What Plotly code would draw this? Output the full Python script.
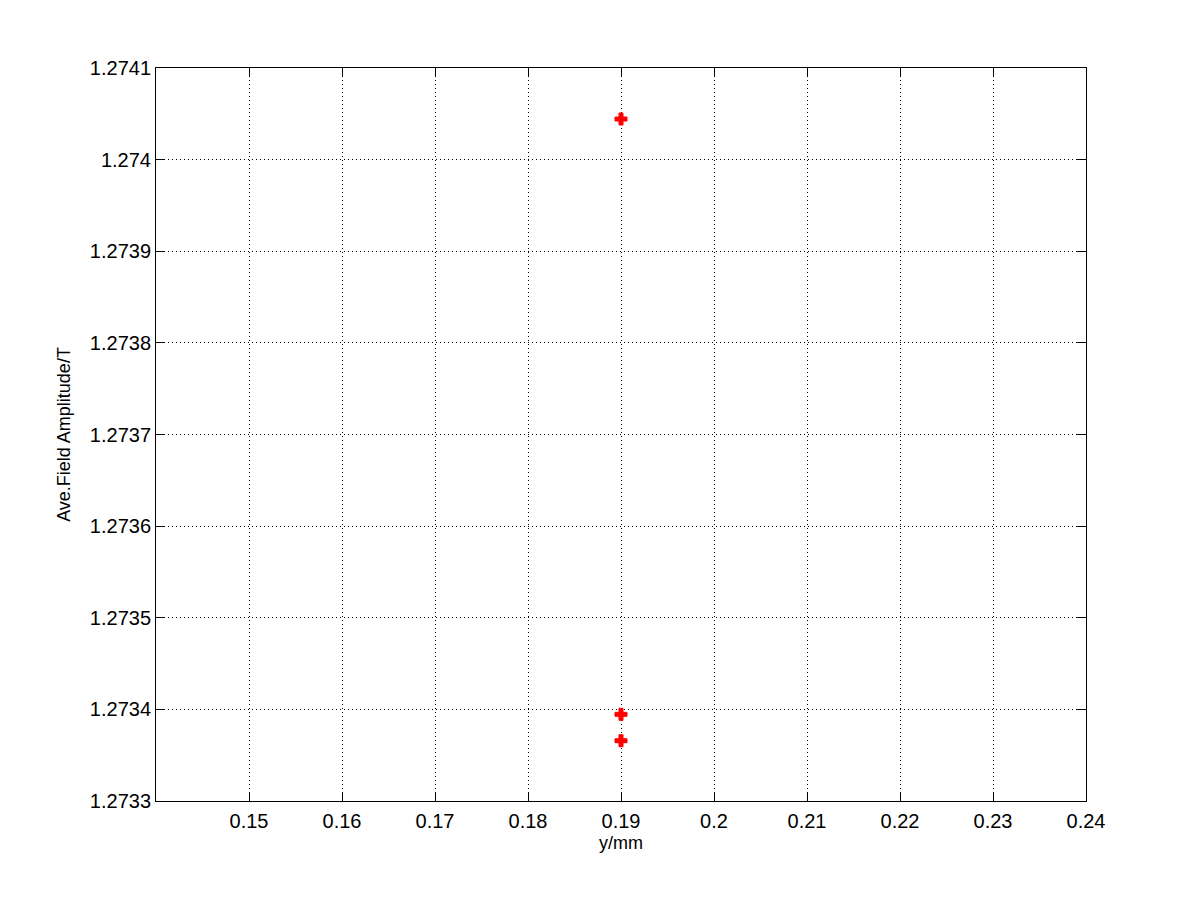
import plotly.graph_objects as go

x_vals = [0.19, 0.19, 0.19]
y_vals = [1.2740443, 1.2733946, 1.2733658]

x_ticks = [0.15, 0.16, 0.17, 0.18, 0.19, 0.20, 0.21, 0.22, 0.23, 0.24]
x_ticktext = ["0.15", "0.16", "0.17", "0.18", "0.19", "0.2", "0.21", "0.22", "0.23", "0.24"]
y_ticks = [1.2733, 1.2734, 1.2735, 1.2736, 1.2737, 1.2738, 1.2739, 1.2740, 1.2741]
y_ticktext = ["1.2733", "1.2734", "1.2735", "1.2736", "1.2737", "1.2738", "1.2739", "1.274", "1.2741"]

fig = go.Figure()
fig.add_trace(go.Scatter(
    x=x_vals, y=y_vals, mode="markers",
    marker=dict(symbol="cross", size=10, color="red", line=dict(color="red", width=1)),
    showlegend=False,
))

font = dict(family="Liberation Sans, Arial, sans-serif", size=18, color="black")
tick_font = dict(family="Liberation Sans, Arial, sans-serif", size=20, color="black")
axis_common = dict(
    showline=True, linecolor="black", linewidth=1, mirror="ticks",
    ticks="inside", ticklen=9, tickcolor="black", tickwidth=1,
    showgrid=True, gridcolor="black", gridwidth=1, griddash="1px,3px",
    zeroline=False, tickfont=tick_font, tickmode="array",
)

fig.update_layout(
    width=1200, height=900,
    paper_bgcolor="white", plot_bgcolor="white",
    margin=dict(l=148, r=122, t=60, b=107),
    font=font,
    xaxis=dict(axis_common, range=[0.14, 0.24], tickvals=x_ticks, ticktext=x_ticktext,
               ticklabelstandoff=2,
               title=dict(text="y/mm", font=font, standoff=5)),
    yaxis=dict(axis_common, range=[1.2733, 1.2741], tickvals=y_ticks, ticktext=y_ticktext,
               ticklabelstandoff=0,
               title=dict(text="Ave.Field Amplitude/T", font=font, standoff=14)),
)

fig.write_html("out.html")
